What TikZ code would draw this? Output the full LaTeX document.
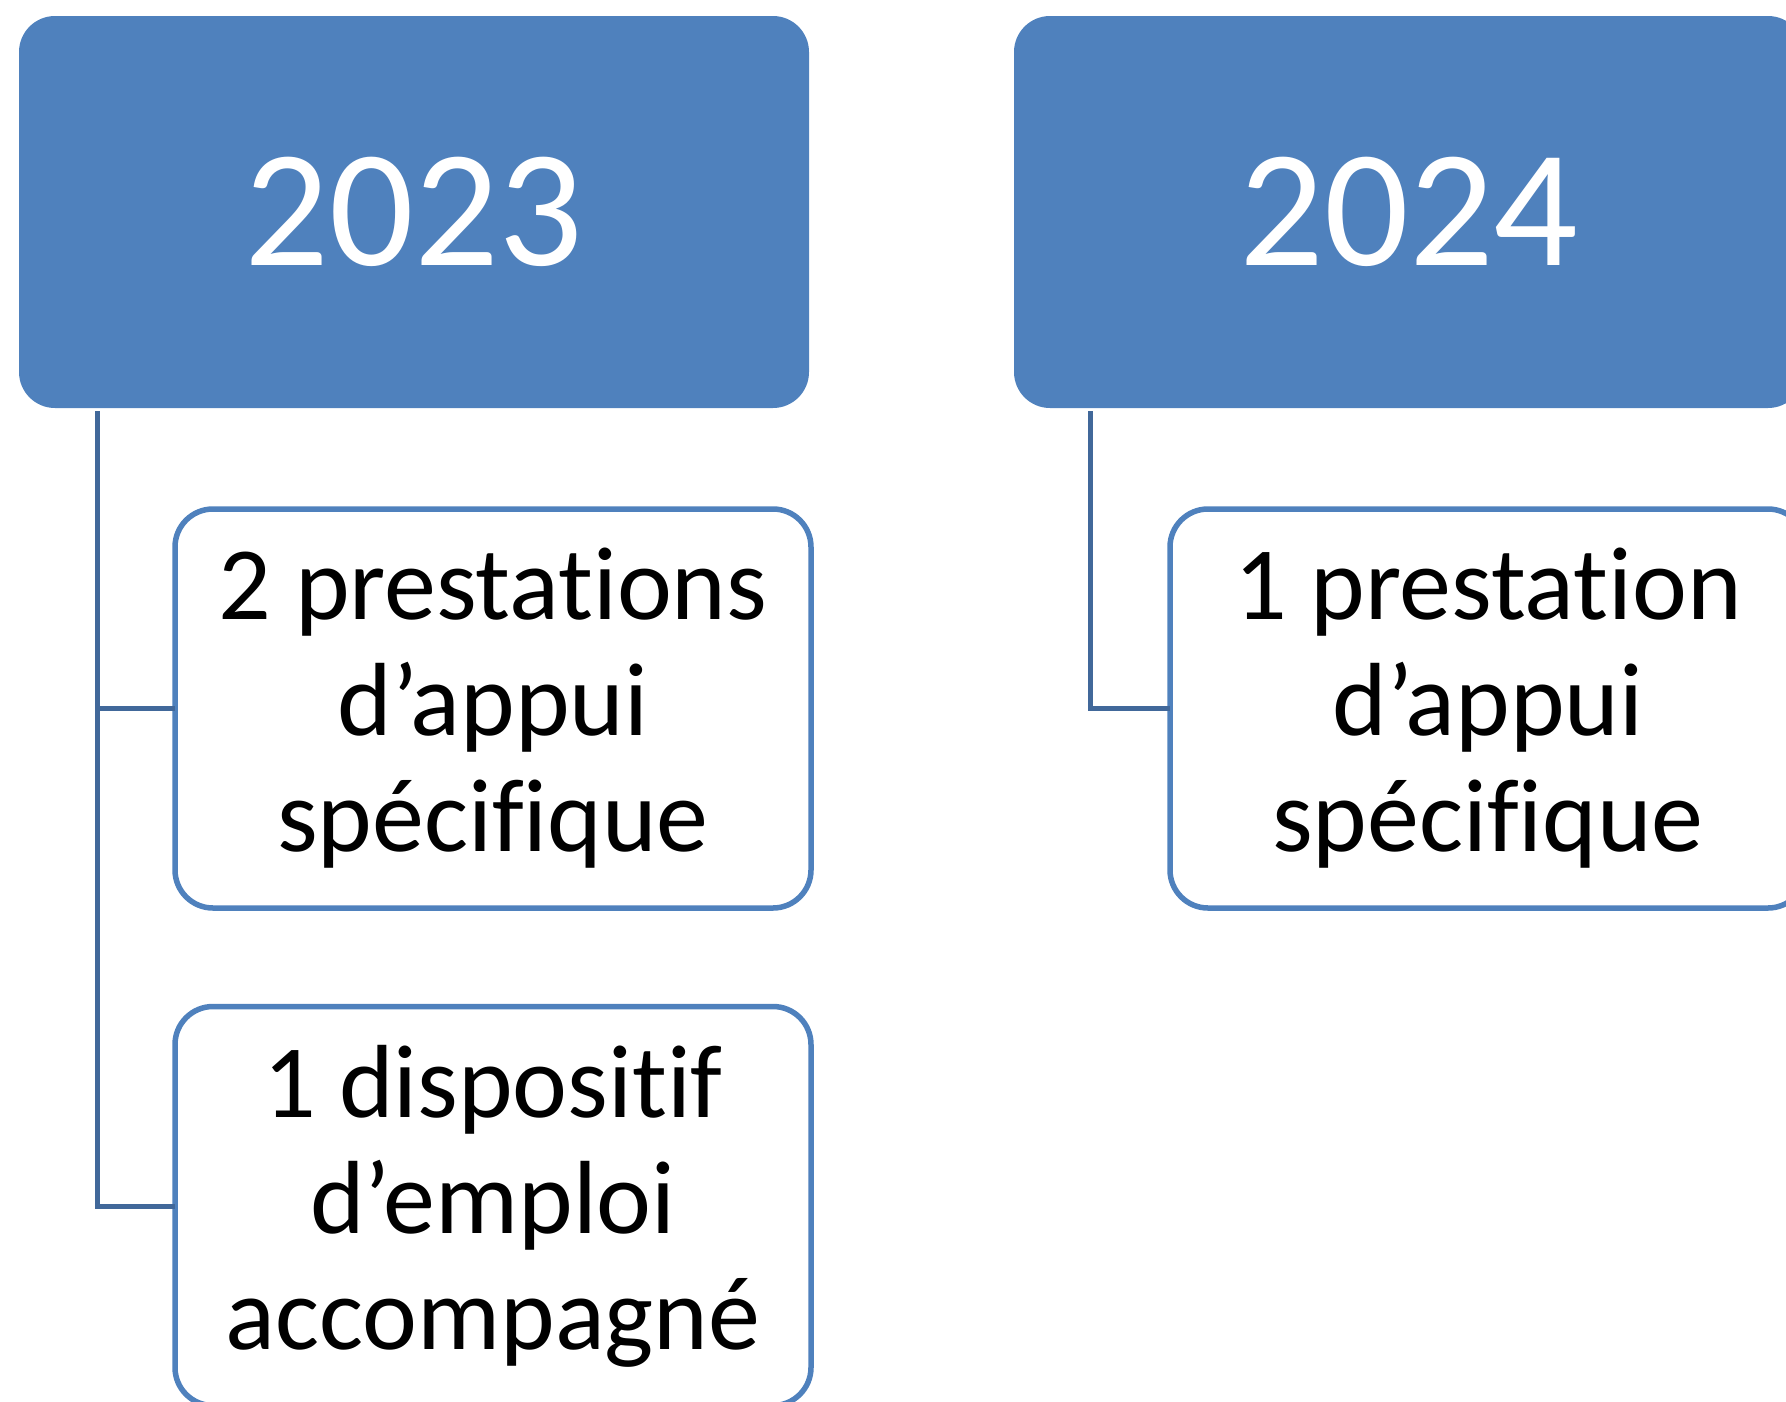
\documentclass[tikz,border=0pt]{standalone}
\usepackage{fontspec}
\setmainfont{Carlito}[Ligatures={NoCommon}]
\definecolor{hdrblue}{HTML}{4F81BD}
\definecolor{lineblue}{HTML}{41689A}
\begin{document}
\begin{tikzpicture}[x=1pt,y=-1pt,
  header/.style={rectangle, rounded corners=36pt, fill=hdrblue, draw=none,
    minimum width=790pt, minimum height=392pt, inner sep=0pt, outer sep=0pt,
    text=white, font=\fontsize{167}{190}\selectfont},
  child/.style={rectangle, rounded corners=38pt, fill=white, draw=hdrblue, line width=5.5pt,
    minimum width=636pt, minimum height=399pt, inner sep=0pt, outer sep=0pt,
    align=center, text=black, font=\fontsize{104}{116}\selectfont},
  conn/.style={draw=lineblue, line width=5pt}]
\useasboundingbox (0,0) rectangle (1786,1401);
\clip (0,0) rectangle (1786,1401);
\node[header] (h1) at (414,212) {2023};
\node[header] (h2) at (1409,212) {2024};
\coordinate (v1) at (97,411);
\coordinate (v2) at (1090,411);
\node[child] (c1) at (493,708.5) {2 prestations\\d’appui\\spécifique};
\node[child] (c2) at (493,1206) {1 dispositif\\d’emploi\\accompagné};
\node[child] (c3) at (1488,708.5) {1 prestation\\d’appui\\spécifique};
\draw[conn] (v1) |- (c1.west);
\draw[conn] (v1) |- (c2.west);
\draw[conn] (v2) |- (c3.west);
\end{tikzpicture}
\end{document}
